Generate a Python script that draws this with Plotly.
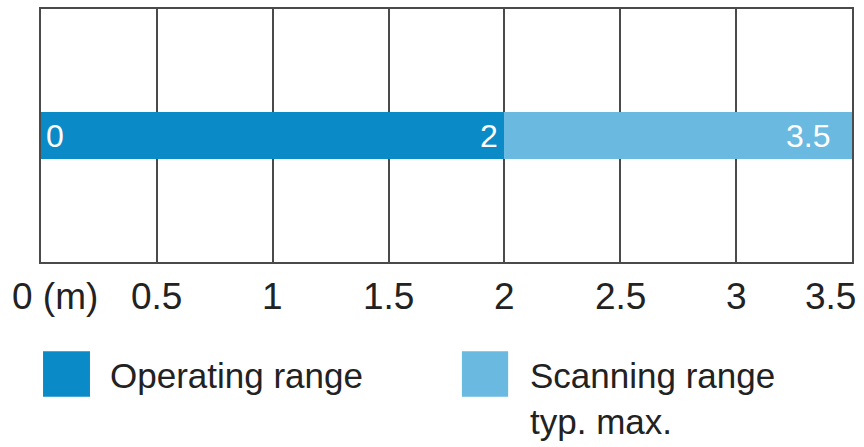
import plotly.graph_objects as go

# ---- data ----
range_names = ["Operating range", "Scanning range<br>typ. max."]
range_start = [0, 2]
range_end = [2, 3.5]
range_colors = ["#0a8bc7", "#6ab9e0"]
bar_labels = ["0", "2", "3.5"]
bar_label_values = [0, 2, 3.5]
tick_values = [0, 0.5, 1, 1.5, 2, 2.5, 3, 3.5]
tick_labels = ["0 (m)", "0.5", "1", "1.5", "2", "2.5", "3", "3.5"]

FONT = "Liberation Sans, Arial, sans-serif"
GRID = "#4a4a4a"

fig = go.Figure()
for name, s, e, c in zip(range_names, range_start, range_end, range_colors):
    fig.add_trace(go.Bar(
        x=[e - s], base=[s], y=[0], orientation="h", width=0.188,
        marker=dict(color=c, line=dict(width=0)), name=name, showlegend=False,
        hoverinfo="skip",
    ))

annotations = []
# bar value labels
label_shifts = [3, -4, -20]
for i, (lab, v) in enumerate(zip(bar_labels, bar_label_values)):
    annotations.append(dict(
        x=v, y=0, xref="x", yref="y", text=lab, showarrow=False,
        xanchor="left" if i == 0 else "right",
        xshift=label_shifts[i],
        font=dict(family=FONT, size=32, color="white"),
    ))
# axis tick labels
for i, (tv, tl) in enumerate(zip(tick_values, tick_labels)):
    anchor, shift = "center", 0
    if i == 0:
        anchor, shift = "left", -31
    elif i == len(tick_values) - 1:
        anchor, shift = "right", 6
    annotations.append(dict(
        x=tv, y=0, xref="x", yref="paper", text=tl, showarrow=False,
        xanchor=anchor, xshift=shift, yanchor="middle", yshift=-34,
        font=dict(family=FONT, size=37, color="#222222"),
    ))

# legend (manual)
legend_sq_x = [(0.0025, 0.0604), (0.519, 0.576)]
legend_text_x = [0.0826, 0.6005]
legend_text_y = [-0.45, -0.54]
shapes = []
for (x0, x1), c, tx, ty, name in zip(legend_sq_x, range_colors, legend_text_x, legend_text_y, range_names):
    shapes.append(dict(type="rect", xref="paper", yref="paper",
                       x0=x0, x1=x1, y0=-0.353, y1=-0.533,
                       fillcolor=c, line=dict(width=0)))
    annotations.append(dict(
        x=tx, y=ty, xref="paper", yref="paper", text=name, showarrow=False,
        xanchor="left", yanchor="middle", align="left",
        font=dict(family=FONT, size=35, color="#222222"),
    ))

fig.update_layout(
    width=864, height=447,
    margin=dict(l=41, r=12, t=7, b=185),
    paper_bgcolor="white", plot_bgcolor="white",
    barmode="overlay", bargap=0,
    xaxis=dict(range=[0, 3.5], tickvals=tick_values, showticklabels=False,
               showgrid=True, gridcolor=GRID, gridwidth=1.5,
               showline=True, linecolor=GRID, linewidth=1.5, mirror=True,
               zeroline=False, ticks="", fixedrange=True),
    yaxis=dict(range=[-0.5, 0.5], showticklabels=False, showgrid=False,
               showline=True, linecolor=GRID, linewidth=1.5, mirror=True,
               zeroline=False, ticks="", fixedrange=True),
    annotations=annotations, shapes=shapes,
    showlegend=False,
)

fig.write_html("out.html", config={"displayModeBar": False},
               post_script="document.body.style.margin='0';document.body.style.overflow='hidden';")
